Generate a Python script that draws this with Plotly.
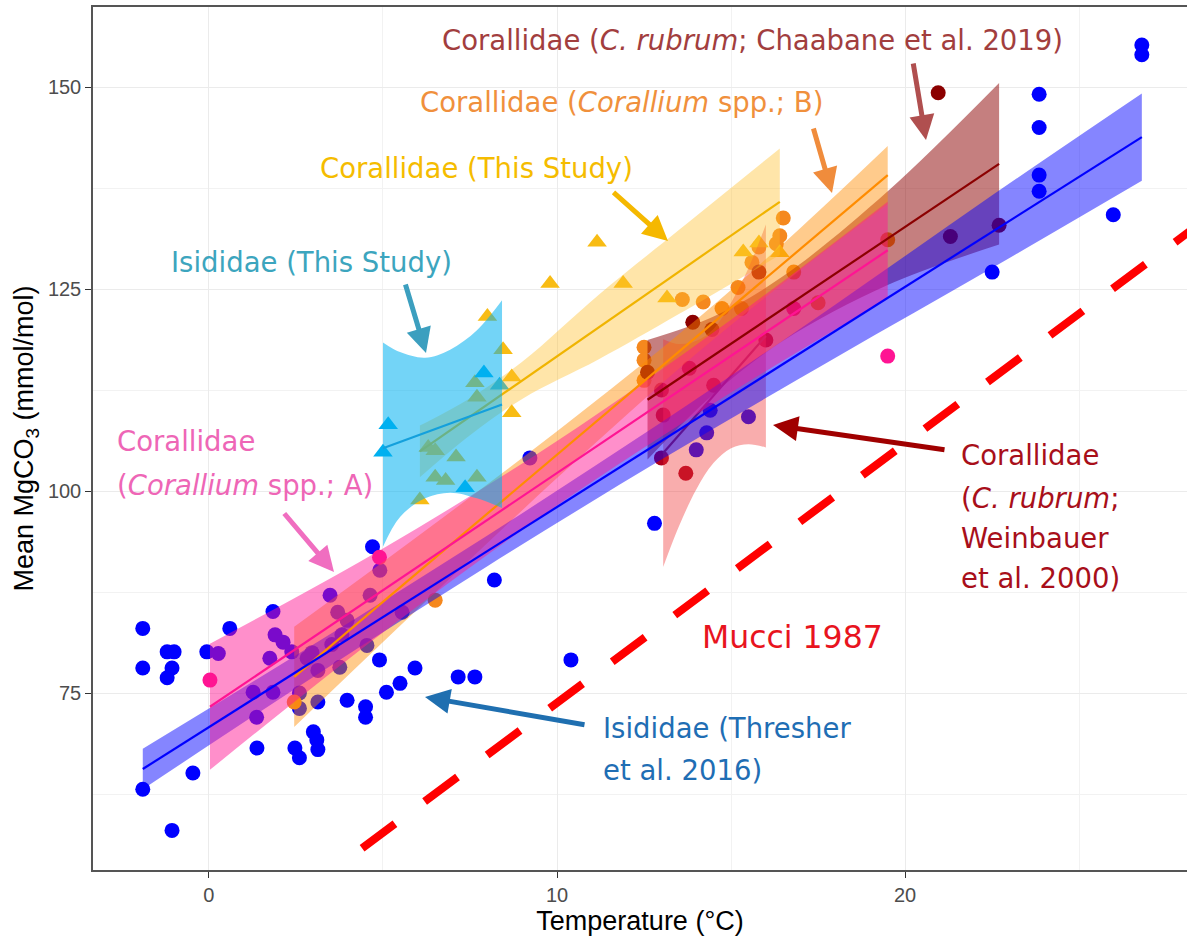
import plotly.graph_objects as go

# ---------------- data ----------------
# Isididae (Thresher et al. 2016)
thresher_temp = [-1.9, -1.9, -1.9, -1.2, -1.0, -1.06, -1.2, -1.06, -0.46, -0.06, 0.6, 0.27, 1.27, 1.37, 1.38,
                 1.75, 1.84, 1.84, 1.9, 2.13, 2.38, 2.47, 2.6, 2.6, 2.6, 2.82, 2.96, 3.0, 3.1, 3.13, 3.13, 3.13,
                 3.48, 3.53, 3.7, 3.76, 3.82, 3.97, 3.97, 4.5, 4.5, 4.54, 4.63, 4.7, 4.9, 4.91, 5.1, 5.49, 5.55,
                 5.92, 7.16, 7.64, 8.2, 9.22, 10.4, 12.8, 14.0, 14.3, 14.4, 15.5, 22.5, 23.85, 23.85, 23.85,
                 23.85, 25.98, 26.8, 26.8]
thresher_mg = [83.0, 78.1, 63.1, 80.1, 80.1, 78.1, 76.9, 58.0, 65.1, 80.1, 83.0, 79.9, 75.1, 72.0, 68.2,
               79.3, 85.1, 75.1, 82.2, 81.3, 80.1, 68.2, 75.0, 73.1, 67.0, 79.3, 80.0, 70.2, 69.2, 68.0, 77.8, 73.9,
               87.1, 81.0, 85.0, 78.2, 82.2, 84.0, 74.1, 73.3, 72.0, 80.9, 87.1, 93.1, 79.1, 90.2, 75.1, 76.2, 85.0,
               78.1, 77.0, 77.0, 89.0, 104.1, 79.1, 96.0, 105.1, 107.2, 110.0, 109.2, 127.1, 149.1, 145.0, 139.1,
               137.1, 134.2, 155.2, 154.0]
thresher_fit_temp = [-1.9, 26.8]
thresher_fit_mg = [65.6, 143.8]
thresher_band_temp = [-1.9, 3, 8, 13, 18, 22.5, 26.8]
thresher_band_lo = [63.1, 77.0, 90.7, 103.9, 116.5, 127.6, 138.4]
thresher_band_hi = [68.1, 81.0, 94.5, 108.5, 123.1, 136.6, 149.2]

# Corallidae (Corallium spp.; A)
coralA_temp = [0.03, 4.9, 16.8, 19.5]
coralA_mg = [76.6, 91.8, 122.6, 116.7]
coralA_fit_temp = [0.03, 19.5]
coralA_fit_mg = [73.3, 129.8]
coralA_band_temp = [0.03, 5, 10, 15, 19.5]
coralA_band_lo = [65.5, 82.5, 98.2, 112.2, 123.8]
coralA_band_hi = [81.1, 92.9, 106.2, 121.2, 135.8]

# Corallidae (Corallium spp.; B)
coralB_temp = [2.45, 6.5, 12.5, 12.5, 12.5, 13.6, 14.2, 14.74, 15.3, 15.2, 15.6, 15.8, 16.3, 16.4, 16.5, 16.8,
               17.5, 19.5]
coralB_mg = [73.9, 86.5, 117.8, 116.2, 113.7, 123.7, 123.4, 122.6, 122.6, 125.2, 128.3, 130.2, 130.6, 131.6,
             133.8, 127.1, 123.3, 131.1]
coralB_fit_temp = [2.45, 19.5]
coralB_fit_mg = [77.0, 139.1]
coralB_band_temp = [2.45, 6, 10, 14, 17, 19.5]
coralB_band_lo = [70.8, 85.4, 101.6, 117.0, 127.4, 135.5]
coralB_band_hi = [83.2, 94.4, 107.4, 121.2, 132.6, 142.7]

# Corallidae (This Study)
coralTS_temp = [6.06, 6.3, 6.5, 6.5, 6.8, 7.1, 7.64, 7.7, 7.7, 8.0, 8.45, 8.7, 8.7, 9.8, 11.15, 11.9, 13.16,
                15.35, 15.8, 16.4]
coralTS_mg = [98.9, 105.4, 105.0, 101.7, 101.3, 104.2, 113.4, 111.6, 101.7, 121.6, 117.5, 114.1, 109.7, 125.7,
              130.8, 125.7, 123.9, 129.6, 130.7, 129.5]
coralTS_fit_temp = [6.06, 16.4]
coralTS_fit_mg = [104.9, 135.8]
coralTS_band_temp = [6.06, 7.5, 9, 11.2, 13.5, 16.4]
coralTS_band_lo = [101.7, 106.9, 111.4, 116.3, 121.9, 129.2]
coralTS_band_hi = [108.1, 111.5, 116.0, 124.3, 132.3, 142.4]

# Isididae (This Study)
isiTS_temp = [5.0, 5.15, 7.36, 7.9, 8.35]
isiTS_mg = [104.8, 108.2, 100.4, 114.6, 113.1]
isiTS_fit_temp = [5.0, 8.42]
isiTS_fit_mg = [105.3, 110.7]
isiTS_band_temp = [5.0, 5.49, 6.21, 6.93, 7.70, 8.42]
isiTS_band_lo = [93.1, 96.8, 99.1, 99.8, 99.1, 97.9]
isiTS_band_hi = [118.4, 117.2, 116.5, 117.5, 119.9, 123.6]

# Corallidae (C. rubrum; Weinbauer et al. 2000)
wein_temp = [13.0, 13.05, 13.0, 13.7, 13.8, 14.5, 16.0]
wein_mg = [112.5, 109.4, 104.1, 102.2, 115.2, 113.1, 118.7]
wein_fit_temp = [13.05, 16.0]
wein_fit_mg = [104.7, 119.2]
wein_band_temp = [13.05, 13.5, 14.0, 14.5, 15.0, 15.5, 16.0]
wein_band_lo = [90.6, 95.6, 100.2, 103.5, 105.3, 105.8, 105.4]
wein_band_hi = [118.8, 118.2, 118.6, 120.1, 123.3, 127.6, 133.0]

# Corallidae (C. rubrum; Chaabane et al. 2019)
chaa_temp = [12.6, 13.9, 14.45, 15.8, 20.95, 21.3, 22.7]
chaa_mg = [114.7, 120.9, 120.0, 127.1, 149.3, 131.5, 132.9]
chaa_fit_temp = [12.6, 22.7]
chaa_fit_mg = [111.3, 140.5]
chaa_band_temp = [12.6, 14.5, 16.5, 19.5, 22.7]
chaa_band_lo = [103.9, 112.0, 118.6, 125.5, 130.5]
chaa_band_hi = [118.7, 121.6, 126.6, 137.1, 150.5]

# Mucci 1987
mucci_temp = [4.4, 29.0]
mucci_mg = [55.8, 134.8]

x_ticks = [0, 10, 20]
y_ticks = [75, 100, 125, 150]

# ---------------- figure ----------------
fig = go.Figure()

def points(t, m, color, symbol, size):
    fig.add_trace(go.Scatter(x=t, y=m, mode="markers", hoverinfo="skip",
                             marker=dict(color=color, symbol=symbol, size=size, line=dict(width=0))))

def band(t, lo, hi, fill):
    fig.add_trace(go.Scatter(x=t, y=lo, mode="lines", hoverinfo="skip",
                             line=dict(width=0, shape="spline", smoothing=1.0)))
    fig.add_trace(go.Scatter(x=t, y=hi, mode="lines", hoverinfo="skip", fill="tonexty", fillcolor=fill,
                             line=dict(width=0, shape="spline", smoothing=1.0)))

def fit(t, m, color, width=2.2):
    fig.add_trace(go.Scatter(x=t, y=m, mode="lines", hoverinfo="skip", line=dict(color=color, width=width)))

# points first (bands are drawn over them, as in the original)
points(thresher_temp, thresher_mg, "#0000FF", "circle", 15)
points(coralA_temp, coralA_mg, "#FF1493", "circle", 15)
points(coralB_temp, coralB_mg, "#F5881E", "circle", 15)
points(wein_temp, wein_mg, "#B0001E", "circle", 15)
points(chaa_temp, chaa_mg, "#8B0000", "circle", 15)
points(coralTS_temp, coralTS_mg, "#F8BC14", "triangle-up", 17)
points(isiTS_temp, isiTS_mg, "#00B0F0", "triangle-up", 17)

band(chaa_band_temp, chaa_band_lo, chaa_band_hi, "rgba(139,0,0,0.5)")
band(wein_band_temp, wein_band_lo, wein_band_hi, "rgba(240,50,50,0.40)")
fit(wein_fit_temp, wein_fit_mg, "#B22234")
band(coralB_band_temp, coralB_band_lo, coralB_band_hi, "rgba(255,140,0,0.45)")
band(thresher_band_temp, thresher_band_lo, thresher_band_hi, "rgba(0,0,255,0.48)")
band(coralA_band_temp, coralA_band_lo, coralA_band_hi, "rgba(255,20,147,0.48)")
fit(coralB_fit_temp, coralB_fit_mg, "#FF8C00")
fit(chaa_fit_temp, chaa_fit_mg, "#8B0000")
band(coralTS_band_temp, coralTS_band_lo, coralTS_band_hi, "rgba(255,190,40,0.40)")
fit(coralTS_fit_temp, coralTS_fit_mg, "#F0B400")
band(isiTS_band_temp, isiTS_band_lo, isiTS_band_hi, "rgba(0,176,240,0.55)")
fit(isiTS_fit_temp, isiTS_fit_mg, "#14A0DC")
fit(coralA_fit_temp, coralA_fit_mg, "#FF1493")
fit(thresher_fit_temp, thresher_fit_mg, "#0000FF")

fig.add_trace(go.Scatter(x=mucci_temp, y=mucci_mg, mode="lines", hoverinfo="skip",
                         line=dict(color="#FF0000", width=8, dash="41px,37px")))

# ---------------- annotations (positions given in page pixels) ----------------
X0, Y0 = -3.33, 53.1
PX_X, PX_Y = 34.81, 8.08
LEFT, BOTTOM = 93, 870


def dx(p):
    return X0 + (p - LEFT) / PX_X


def dy(p):
    return Y0 + (BOTTOM - p) / PX_Y


ANN_FONT = "DejaVu Sans, Liberation Sans, Arial, sans-serif"
labels = [
    ("Corallidae (<i>C. rubrum</i>; Chaabane et al. 2019)", 440, 40, "#A23E3E", 27.5),
    ("Corallidae (<i>Corallium</i> spp.; B)", 418, 102, "#F0903C", 27.5),
    ("Corallidae (This Study)", 318, 168, "#F5BC00", 27.5),
    ("Isididae (This Study)", 169, 262, "#3CA5BE", 27.5),
    ("Corallidae", 115, 441, "#EE66B6", 27.5),
    ("(<i>Corallium</i> spp.; A)", 115, 485, "#EE66B6", 27.5),
    ("Corallidae", 959, 455, "#A80F1A", 27.5),
    ("(<i>C. rubrum</i>;", 959, 498, "#A80F1A", 27.5),
    ("Weinbauer", 959, 538, "#A80F1A", 27.5),
    ("et al. 2000)", 959, 578, "#A80F1A", 27.5),
    ("Mucci 1987", 700, 637, "#E8141E", 31.5),
    ("Isididae (Thresher", 601, 728, "#1F6EB4", 27.5),
    ("et al. 2016)", 601, 770, "#1F6EB4", 27.5),
]
arrows = [
    (913, 62, 926, 140, "#B04F4F"),
    (813, 127, 832, 193, "#F08C3C"),
    (612, 191, 668, 241, "#F5B800"),
    (405, 283, 426, 353, "#3C9FBF"),
    (283, 512, 334, 572, "#F06EC0"),
    (946, 450, 773, 425, "#A00000"),
    (586, 725, 425, 697, "#1F6FB0"),
]

annotations = []
for text, px, py, color, size in labels:
    annotations.append(dict(x=dx(px), y=dy(py), xref="x", yref="y", text=text, showarrow=False,
                            xanchor="left", yanchor="middle",
                            font=dict(family=ANN_FONT, size=size, color=color)))
for tx, ty, hx, hy, color in arrows:
    annotations.append(dict(x=dx(hx), y=dy(hy), ax=dx(tx), ay=dy(ty), xref="x", yref="y",
                            axref="x", ayref="y", text="", showarrow=True,
                            arrowhead=2, arrowsize=1, arrowwidth=5, arrowcolor=color,
                            standoff=0, startstandoff=0))

fig.update_layout(
    width=1187, height=936,
    margin=dict(l=LEFT, r=0, t=7, b=936 - BOTTOM),
    plot_bgcolor="white", paper_bgcolor="white",
    showlegend=False,
    annotations=annotations,
    font=dict(family="Liberation Sans, Arial, sans-serif"),
)
fig.update_xaxes(
    range=[X0, X0 + (1187 - LEFT) / PX_X],
    tickvals=x_ticks, ticktext=[str(v) for v in x_ticks],
    showgrid=True, gridcolor="#EBEBEB", gridwidth=1.3,
    minor=dict(dtick=5, tick0=0, showgrid=True, gridcolor="#F2F2F2", gridwidth=0.7),
    ticks="outside", ticklen=6, tickwidth=1.3, tickcolor="#333333",
    tickfont=dict(size=20, color="#4D4D4D"),
    showline=True, linecolor="#555555", linewidth=1.5, mirror=True, zeroline=False,
    title=dict(text="Temperature (°C)", font=dict(size=27, color="black"), standoff=0),
)
fig.update_yaxes(
    range=[Y0, Y0 + (BOTTOM - 7) / PX_Y],
    tickvals=y_ticks, ticktext=[str(v) for v in y_ticks],
    showgrid=True, gridcolor="#EBEBEB", gridwidth=1.3,
    minor=dict(dtick=12.5, tick0=0, showgrid=True, gridcolor="#F2F2F2", gridwidth=0.7),
    ticks="outside", ticklen=6, tickwidth=1.3, tickcolor="#333333",
    tickfont=dict(size=20, color="#4D4D4D"),
    showline=True, linecolor="#555555", linewidth=1.5, zeroline=False,
    title=dict(text="Mean MgCO<sub>3</sub> (mmol/mol)", font=dict(size=27, color="black"), standoff=6),
)

fig.write_html("out.html")
